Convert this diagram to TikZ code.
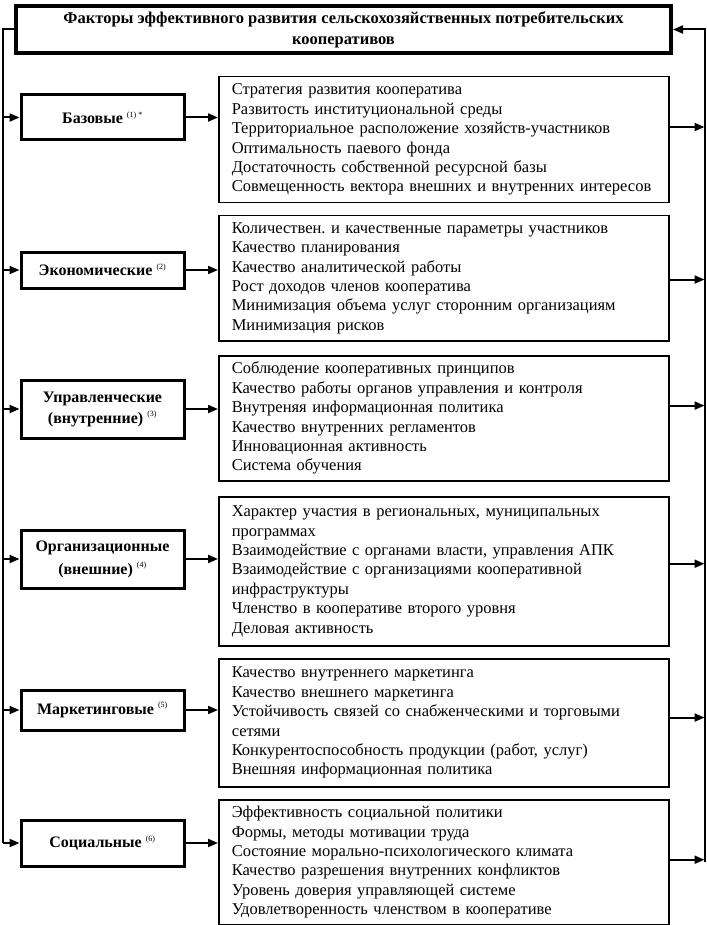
\documentclass[tikz,border=0pt]{standalone}
\usepackage{fontspec}
\setmainfont{Liberation Serif}
\usetikzlibrary{arrows.meta,positioning,calc}
\frenchspacing

\begin{document}
\begin{tikzpicture}[
  x=1pt, y=-1pt,
  >={Triangle[length=10pt,width=8pt]},
  heading/.style={draw, line width=4pt, minimum width=655pt, minimum height=47pt, align=center, inner sep=1pt, font=\bfseries\fontsize{16.5}{21}\selectfont},
  factor/.style={draw, line width=3pt, minimum width=163pt, align=center, font=\bfseries\fontsize{16}{21}\selectfont},
  items/.style={draw, line width=1.5pt, anchor=north west, text width=424pt, inner xsep=13pt, align=left, font=\fontsize{16.5}{19.4}\selectfont},
  flow/.style={->, line width=2pt},
  bus/.style={line width=2pt}
]
  \useasboundingbox (0,0) rectangle (706,925);

  \node[heading] (title) at (343.5,29.5) {Факторы эффективного развития сельскохозяйственных потребительских\\кооперативов};

  \node[factor, minimum height=45pt] (base) at (102.5,117.5) {Базовые \textsuperscript{\normalfont\footnotesize(1) *}};
  \node[factor, minimum height=36pt] (econ) at (102.5,270) {Экономические \textsuperscript{\normalfont\footnotesize(2)}};
  \node[factor, minimum height=58pt] (mgmt) at (102.5,409) {Управленческие\\(внутренние) \textsuperscript{\normalfont\footnotesize(3)}};
  \node[factor, minimum height=58pt] (org) at (102.5,559) {Организационные\\[2pt](внешние) \textsuperscript{\normalfont\footnotesize(4)}};
  \node[factor, minimum height=40pt] (mkt) at (102.5,710) {Маркетинговые \textsuperscript{\normalfont\footnotesize(5)}};
  \node[factor, minimum height=46pt] (soc) at (102.5,843) {Социальные \textsuperscript{\normalfont\footnotesize(6)}};

  \node[items, minimum height=126pt] (basel) at (218,76) {Стратегия развития кооператива\\
    Развитость институциональной среды\\
    Территориальное расположение хозяйств-участников\\
    Оптимальность паевого фонда\\
    Достаточность собственной ресурсной базы\\
    Совмещенность вектора внешних и внутренних интересов};
  \node[items, minimum height=125pt] (econl) at (218,215) {Количествен. и качественные параметры участников\\
    Качество планирования\\
    Качество аналитической работы\\
    Рост доходов членов кооператива\\
    Минимизация объема услуг сторонним организациям\\
    Минимизация рисков};
  \node[items, minimum height=125pt] (mgmtl) at (218,355) {Соблюдение кооперативных принципов\\
    Качество работы органов управления и контроля\\
    Внутреняя информационная политика\\
    Качество внутренних регламентов\\
    Инновационная активность\\
    Система обучения};
  \node[items, minimum height=149pt] (orgl) at (218,496) {Характер участия в региональных, муниципальных\\
    программах\\
    Взаимодействие с органами власти, управления АПК\\
    Взаимодействие с организациями кооперативной\\
    инфраструктуры\\
    Членство в кооперативе второго уровня\\
    Деловая активность};
  \node[items, minimum height=128pt] (mktl) at (218,658) {Качество внутреннего маркетинга\\
    Качество внешнего маркетинга\\
    Устойчивость связей со снабженческими и торговыми\\
    сетями\\
    Конкурентоспособность продукции (работ, услуг)\\
    Внешняя информационная политика};
  \node[items, minimum height=125pt] (socl) at (218,799) {Эффективность социальной политики\\
    Формы, методы мотивации труда\\
    Состояние морально-психологического климата\\
    Качество разрешения внутренних конфликтов\\
    Уровень доверия управляющей системе\\
    Удовлетворенность членством в кооперативе};

  \coordinate (lbus) at (3,0);
  \coordinate (rbus) at (704.5,0);

  % left bus and feeds
  \draw[bus] (title.west) -| (lbus |- soc.west);
  \foreach \f in {base,econ,mgmt,org,mkt,soc}
    \draw[flow] (lbus |- \f.west) -- (\f.west);

  \foreach \f/\l in {base/basel,econ/econl,mgmt/mgmtl,org/orgl,mkt/mktl,soc/socl}
    \draw[flow] (\f.east) -- (\f.east -| \l.west);

  % right bus back to the title
  \draw[flow] (rbus |- socl.east) |- (title.east);
  \foreach \l/\t in {basel/0.40,econl/0.51,mgmtl/0.40,orgl/0.45,mktl/0.46,socl/0.48}
    \draw[flow] ($(\l.north east)!\t!(\l.south east)$) -- (rbus |- {$(\l.north east)!\t!(\l.south east)$});
\end{tikzpicture}
\end{document}
